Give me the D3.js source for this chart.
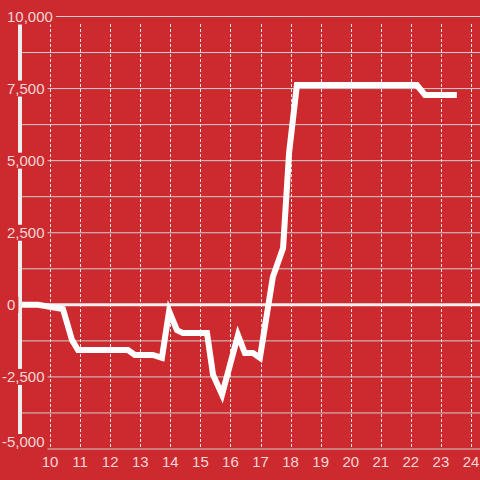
<!DOCTYPE html>
<html>
<head>
<meta charset="utf-8">
<script src="https://cdn.jsdelivr.net/npm/d3@7"></script>
<style>
  html, body { margin: 0; padding: 0; background: #cc2a2f; }
  svg { display: block; }
  text { font-family: "Liberation Sans", Arial, sans-serif; font-size: 15px; fill: #f3d6d7; }
</style>
</head>
<body>
<svg id="chart" width="480" height="480"></svg>
<script>
/* data */
const xValues = [9.0, 9.6, 10.43, 10.73, 10.93, 12.59, 12.82, 13.42, 13.72, 13.96, 14.22, 14.42,
    15.22, 15.42, 15.72, 16.25, 16.48, 16.75, 16.98, 17.41, 17.75, 17.95, 18.21, 22.2, 22.47, 23.53];
const yValues = [0, 0, -150, -1220, -1570, -1570, -1740, -1740, -1840, -215, -875, -980,
    -980, -2420, -3115, -1050, -1670, -1670, -1840, 965, 1970, 5265, 7620, 7620, 7280, 7280];
const xTicks = [10, 11, 12, 13, 14, 15, 16, 17, 18, 19, 20, 21, 22, 23, 24];
const yTicks = [10000, 7500, 5000, 2500, 0, -2500, -5000];
const yGrid = [10000, 8750, 7500, 6250, 5000, 3750, 2500, 1250, 0, -1250, -2500, -3750, -5000];

const bg = "#cc2a2f";
const width = 480;
const height = 480;
const margin = { top: 16.5, right: 0, bottom: 31, left: 20 };

const xScale = d3.scaleLinear()
    .domain([9, 24.3])
    .range([margin.left, width - margin.right]);
const yScale = d3.scaleLinear()
    .domain([-5000, 10000])
    .range([height - margin.bottom, margin.top]);

const svg = d3.select("#chart");
const fmt = d3.format(",");

/* horizontal grid */
svg.append("g").selectAll("line")
    .data(yGrid)
    .enter()
    .append("line")
    .attr("x1", margin.left)
    .attr("x2", width)
    .attr("y1", d => yScale(d))
    .attr("y2", d => yScale(d))
    .attr("stroke", "#cfcfcf")
    .attr("stroke-width", 1);

/* vertical dotted grid */
svg.append("g").selectAll("line")
    .data(xTicks)
    .enter()
    .append("line")
    .attr("x1", d => Math.round(xScale(d)) + 0.5)
    .attr("x2", d => Math.round(xScale(d)) + 0.5)
    .attr("y1", 24)
    .attr("y2", yScale(-5000))
    .attr("stroke", "#e6e6e6")
    .attr("stroke-width", 1)
    .attr("stroke-dasharray", "3,2");

/* zero line */
svg.append("line")
    .attr("x1", margin.left)
    .attr("x2", width)
    .attr("y1", yScale(0))
    .attr("y2", yScale(0))
    .attr("stroke", "#eeeeee")
    .attr("stroke-width", 3);

/* series */
const line = d3.line()
    .x((d, i) => xScale(xValues[i]))
    .y(d => yScale(d));

svg.append("path")
    .datum(yValues)
    .attr("d", line)
    .attr("fill", "none")
    .attr("stroke", "#ffffff")
    .attr("stroke-width", 6)
    .attr("stroke-linejoin", "miter");

/* y axis line */
svg.append("line")
    .attr("x1", margin.left)
    .attr("x2", margin.left)
    .attr("y1", yScale(10000))
    .attr("y2", yScale(-5000))
    .attr("stroke", "#eeeeee")
    .attr("stroke-width", 4);

/* y labels with background boxes */
const yLab = svg.append("g").selectAll("g")
    .data(yTicks)
    .enter()
    .append("g")
    .attr("transform", d => "translate(" + (d < 0 ? 2 : 7) + "," + Math.min(yScale(d), 442) + ")");

yLab.append("text")
    .attr("text-anchor", "start")
    .attr("dy", "0.35em")
    .text(d => fmt(d).replace("−", "-"));

yLab.each(function () {
    const g = d3.select(this);
    const b = g.select("text").node().getBBox();
    g.insert("rect", "text")
        .attr("x", b.x - 2)
        .attr("y", -8)
        .attr("width", b.width + 5)
        .attr("height", 16)
        .attr("fill", bg);
});

/* x labels */
svg.append("g").selectAll("text")
    .data(xTicks)
    .enter()
    .append("text")
    .attr("x", d => xScale(d))
    .attr("y", 467)
    .attr("text-anchor", "middle")
    .text(d => d);
</script>
</body>
</html>
